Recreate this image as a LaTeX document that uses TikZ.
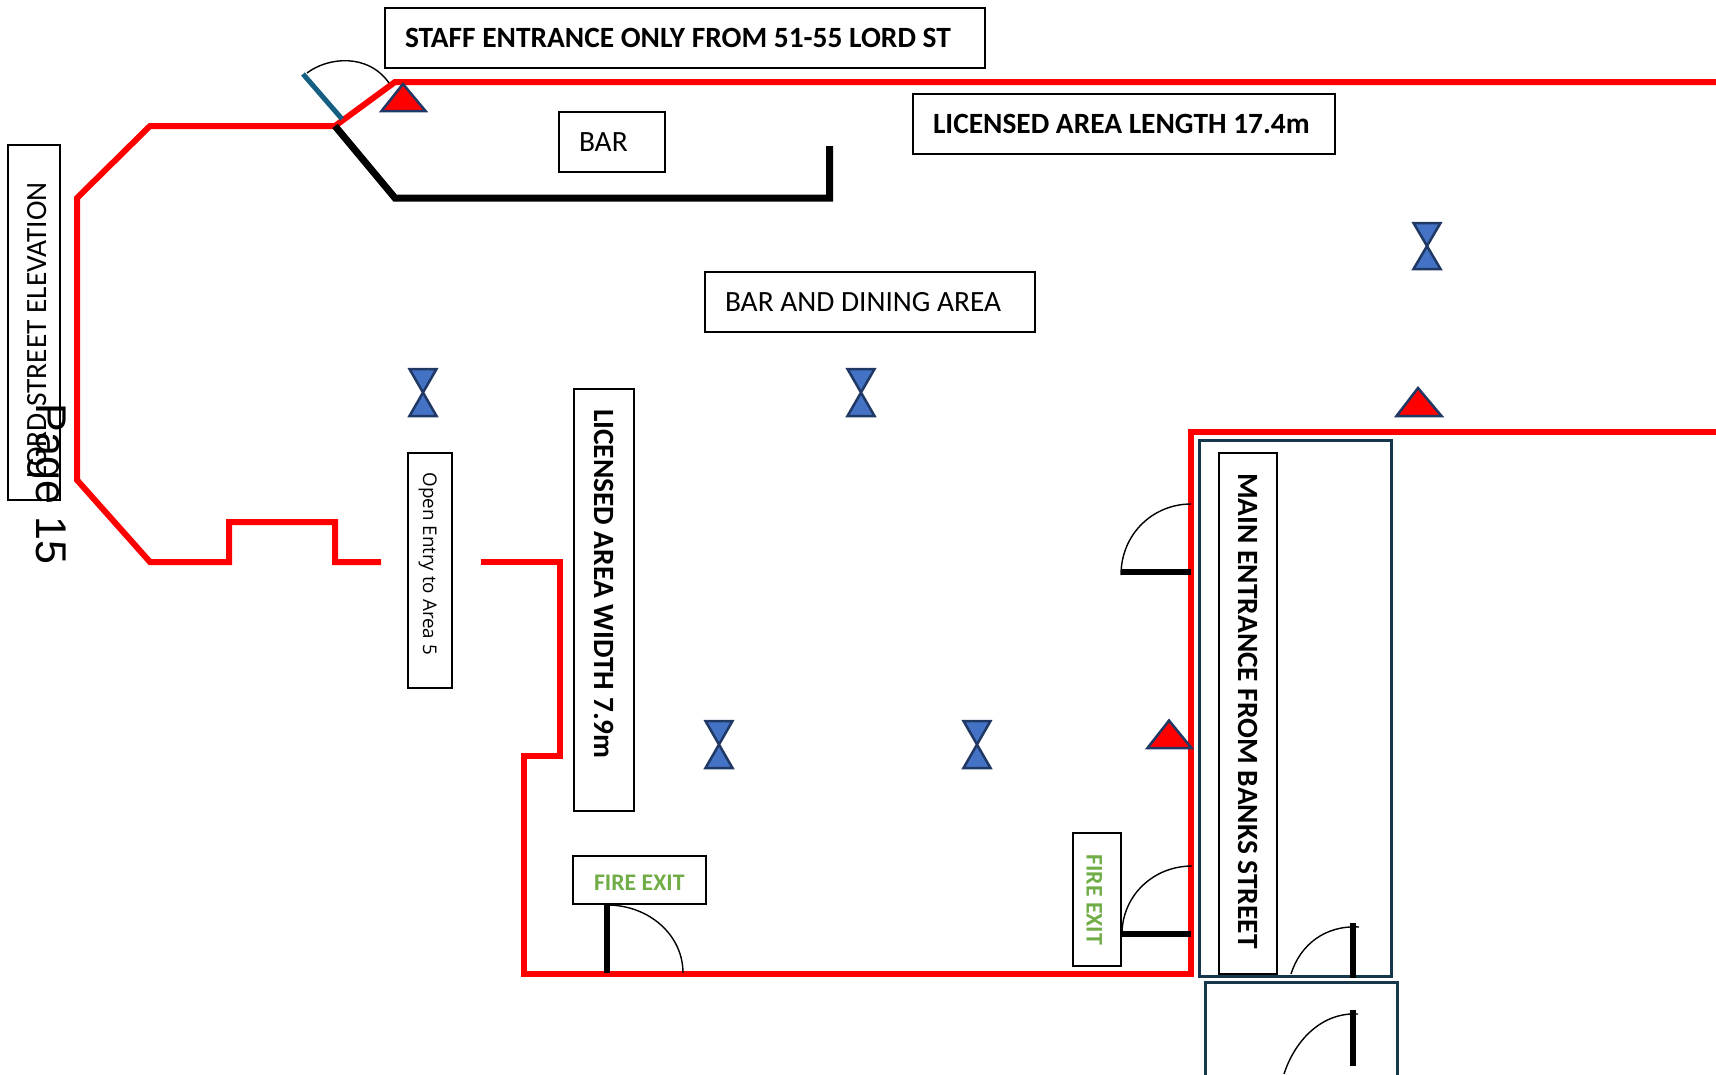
\documentclass[tikz,border=0pt]{standalone}
\usepackage{fontspec}
\setmainfont{Carlito}
\newfontfamily\openfont{Open Sans}
\newfontfamily\pagefont{Liberation Sans}
\usepackage{tikz}
\usetikzlibrary{shapes}
\definecolor{wallred}{HTML}{FF0000}
\definecolor{markblue}{HTML}{4472C4}
\definecolor{markedge}{HTML}{203864}
\definecolor{doorteal}{HTML}{156082}
\definecolor{lobbyedge}{HTML}{17374B}
\definecolor{exitgreen}{HTML}{70AD47}
\tikzset{
	labelbox/.style={draw,line width=2pt,rectangle,fill=white,inner sep=0pt,align=flush left,font=\fontsize{29.4}{34}\selectfont},
	headbox/.style={labelbox,font=\fontsize{29.4}{34}\selectfont\bfseries},
	exitbox/.style={labelbox,text=exitgreen,text height=21pt,text depth=0pt,font=\fontsize{23.8}{28}\selectfont\bfseries},
	wall/.style={wallred,line width=6pt},
	partition/.style={black,line width=7pt},
	door/.style={black,line width=6pt},
	swing/.style={black,line width=1.4pt},
	lobby/.style={lobbyedge,line width=3pt},
	hazard/.style={fill=wallred,draw=markedge,line width=2.5pt},
	sandglass/.style={fill=markblue,draw=markedge,line width=2.5pt}
}
\begin{document}
\begin{tikzpicture}[x=1pt,y=-1pt]
		\useasboundingbox (0,0) rectangle (1716,1074);

		\node[labelbox,rotate=90,minimum width=355pt,minimum height=52pt,text width=313pt,text height=24.4pt,text depth=0pt] (LordSt) at (34,322) {LORD STREET ELEVATION};
		\node[headbox,minimum width=600pt,minimum height=60pt,text width=560pt] (Staff) at (685,38) {STAFF ENTRANCE ONLY FROM 51-55 LORD ST};
		\node[labelbox,minimum width=106pt,minimum height=60pt,text width=66pt] (Bar) at (612,142) {BAR};
		\node[headbox,minimum width=422pt,minimum height=60pt,text width=382pt] (Length) at (1124,124) {LICENSED AREA LENGTH 17.4m};
		\node[labelbox,minimum width=330pt,minimum height=60pt,text width=290pt] (Dining) at (870,302) {BAR AND DINING AREA};
		\node[headbox,rotate=-90,minimum width=422pt,minimum height=60pt,text width=382pt] (Width) at (604,600) {LICENSED AREA WIDTH 7.9m};
		\node[labelbox,rotate=-90,minimum width=235pt,minimum height=44pt,text width=195pt,text height=18pt,text depth=4pt,font=\openfont\fontsize{18.8}{22}\selectfont] (OpenEntry) at (430,570) {\mbox{Open Entry to Area 5}};
		\node[exitbox,minimum width=133pt,minimum height=48pt,text width=90pt] (ExitSouth) at (639,880) {\mbox{FIRE EXIT}};
		\node[exitbox,rotate=-90,minimum width=133pt,minimum height=48pt,text width=90pt] (ExitEast) at (1097,899.5) {\mbox{FIRE EXIT}};

		\draw[lobby] (1199,440) rectangle (1391,976);
		\draw[lobby] (1205,1076) -- (1205,982.5) -- (1397,982.5) -- (1397,1076);
		\node[headbox,rotate=-90,minimum width=521pt,minimum height=58pt,text width=481pt] (MainDoor) at (1248,713.5) {MAIN ENTRANCE FROM BANKS STREET};

		\draw[wall] (1716,82) -- (395,82) -- (335,126) -- (150,126) -- (77,198) -- (77,480) -- (150,562) -- (229,562) -- (229,522) -- (335,522) -- (335,562) -- (381,562);
		\draw[wall] (481,562) -- (560,562) -- (560,756) -- (524,756) -- (524,974) -- (1191,974) -- (1191,432) -- (1716,432);

		\draw[partition] (335,126) -- (395,198) -- (829.5,198) -- (829.5,146);
		\draw[doorteal,line width=5pt] (303,74) -- (342,119);
		\draw[swing] (307,73) .. controls (328,57) and (368,53) .. (389,83);

		\draw[door] (1121,572) -- (1191,572);
		\draw[swing] (1121,575) .. controls (1121,534) and (1153,504) .. (1191,504);
		\draw[door] (1122,934) -- (1191,934);
		\draw[swing] (1122,934) .. controls (1122,896) and (1153,866) .. (1192,866);
		\draw[door] (607,905) -- (607,973);
		\draw[swing] (607,905) .. controls (649,905) and (683,935) .. (683,973);
		\draw[door] (1353,923) -- (1353,978);
		\draw[swing] (1291,974) .. controls (1300,945) and (1325,925) .. (1359,927);
		\draw[door] (1353,1010) -- (1353,1066);
		\draw[swing] (1284,1074) .. controls (1295,1040) and (1322,1012) .. (1358,1014);

		\draw[hazard] (403,84) -- (425.5,111) -- (381.5,111) -- cycle;
		\draw[hazard] (1418,388) -- (1441.5,416) -- (1396.5,416) -- cycle;
		\draw[hazard] (1169,720.5) -- (1191.5,748) -- (1147.5,748) -- cycle;

		\draw[sandglass] (409.5,369) -- (436.5,369) -- (409.5,416) -- (436.5,416) -- cycle;
		\draw[sandglass] (847.5,369) -- (874.5,369) -- (847.5,416) -- (874.5,416) -- cycle;
		\draw[sandglass] (1413.5,223) -- (1440.5,223) -- (1413.5,269) -- (1440.5,269) -- cycle;
		\draw[sandglass] (705.5,721) -- (732.5,721) -- (705.5,768) -- (732.5,768) -- cycle;
		\draw[sandglass] (963.5,721) -- (990.5,721) -- (963.5,768) -- (990.5,768) -- cycle;

		\node[rotate=-90,inner sep=0pt,font=\pagefont\fontsize{43}{43}\selectfont] (PageNo) at (47,484) {Page 15};
	\end{tikzpicture}
\end{document}
